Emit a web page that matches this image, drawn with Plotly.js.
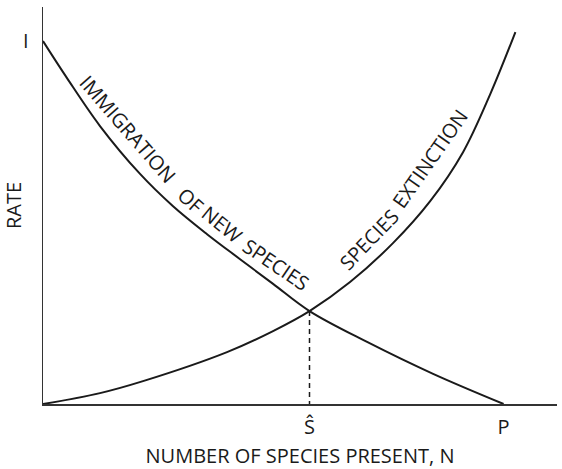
<!DOCTYPE html>
<html>
<head>
<meta charset="utf-8">
<script src="https://cdn.plot.ly/plotly-3.0.1.min.js"></script>
<style>html,body{margin:0;padding:0;background:#fff;}#chart{width:562px;height:469px;}</style>
</head>
<body>
<div id="chart"></div>
<script>
// Immigration curve (number of species N vs rate)
const immigrationN    = [0, 0.468, 1.11, 1.89, 2.533, 3.195, 3.838, 4.481, 5.19, 6.311, 7.597, 8.97];
const immigrationRate = [10, 8.98, 7.66, 6.34, 5.45, 4.68, 3.99, 3.31, 2.56, 1.71, 0.83, 0];
// Extinction curve
const extinctionN     = [0, 1.11, 1.948, 3.584, 4.48, 5.19, 5.98, 6.82, 7.54, 8.18, 8.71, 9.2];
const extinctionRate  = [0, 0.30, 0.63, 1.43, 2.01, 2.56, 3.36, 4.44, 5.59, 6.94, 8.54, 10.25];
// Equilibrium
const sHat = 5.19;
const sHatRate = 2.56;
// Tick labels
const xTickVals = [sHat, 8.97];
const xTickText = ['Ŝ', 'P'];
const yTickVals = [10];
const yTickText = ['I'];
// Curve labels
const labelTexts  = ['IMMIGRATION', 'OF', 'NEW', 'SPECIES', 'SPECIES', 'EXTINCTION'];
const labelN      = [1.66, 2.88, 3.50, 4.54, 6.35, 7.54];
const labelRate   = [7.57, 5.62, 4.96, 3.85, 4.53, 6.76];
const labelAngles = [49, 42, 39, 34, -46, -55];

const font = {family: '"Open Sans", Lato, sans-serif', size: 20, color: '#1a1a1a'};

const traces = [
  {x: immigrationN, y: immigrationRate, mode: 'lines', line: {color: '#1a1a1a', width: 2, shape: 'spline', smoothing: 1}, hoverinfo: 'skip'},
  {x: extinctionN, y: extinctionRate, mode: 'lines', line: {color: '#1a1a1a', width: 2, shape: 'spline', smoothing: 1}, hoverinfo: 'skip'},
  {x: [sHat, sHat], y: [sHatRate, 0], mode: 'lines', line: {color: '#1a1a1a', width: 1.5, dash: '5px,4px'}, hoverinfo: 'skip'}
];

const annotations = labelTexts.map((t, i) => ({
  x: labelN[i], y: labelRate[i], xref: 'x', yref: 'y', text: t,
  showarrow: false, textangle: labelAngles[i], xanchor: 'center', yanchor: 'middle',
  font: font
}));

const layout = {
  width: 562, height: 469,
  margin: {l: 43, r: 5, t: 7, b: 65},
  paper_bgcolor: '#fff', plot_bgcolor: '#fff',
  showlegend: false,
  font: font,
  xaxis: {
    range: [0, 10.01], showgrid: false, zeroline: false,
    showline: true, linecolor: '#333', linewidth: 1.5,
    tickvals: xTickVals, ticktext: xTickText, ticks: '',
    ticklabelstandoff: 4,
    tickfont: font, fixedrange: true,
    title: {text: 'NUMBER OF SPECIES PRESENT, N', font: font, standoff: 11}
  },
  yaxis: {
    range: [0, 10.94], showgrid: false, zeroline: false,
    showline: true, linecolor: '#333', linewidth: 1.5,
    tickvals: yTickVals, ticktext: yTickText, ticks: '',
    ticklabelstandoff: 9,
    tickfont: font, fixedrange: true,
    title: {text: 'RATE', font: font, standoff: 0}
  },
  annotations: annotations
};

Plotly.newPlot('chart', traces, layout, {displayModeBar: false, staticPlot: true});
</script>
</body>
</html>
